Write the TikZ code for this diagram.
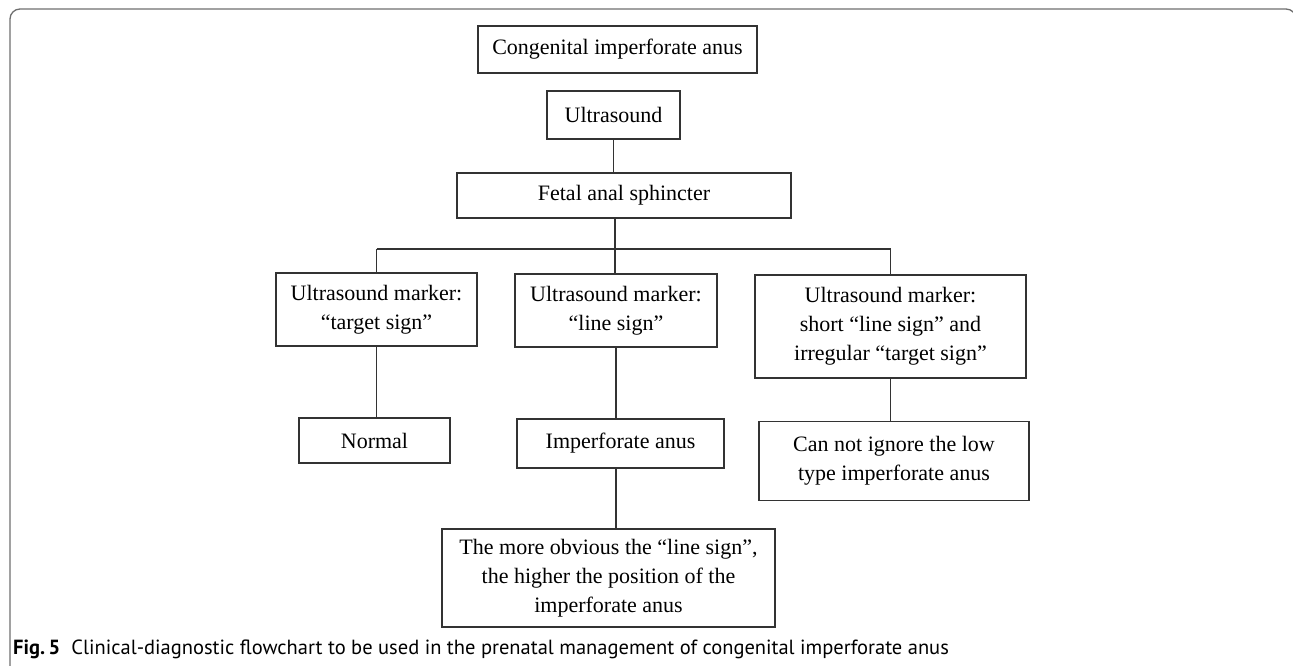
\documentclass[tikz,border=0pt]{standalone}
\usepackage{fontspec}
\setmainfont{Liberation Serif}
\newfontfamily\capfont{PT Sans}
\definecolor{framecol}{HTML}{6E6E6E}
\definecolor{boxcol}{HTML}{333333}
\begin{document}
\begin{tikzpicture}[x=1pt,y=-1pt,
  fbox/.style={draw=boxcol, line width=1.4pt, align=center, inner sep=0pt,
    font=\fontsize{22}{29}\selectfont, text=black},
  conn/.style={draw=boxcol, line width=1.4pt}]
\useasboundingbox (0,0) rectangle (1293,666);
\begin{scope}
\clip (0,0) rectangle (1293,666);
\draw[framecol, line width=1.3pt, rounded corners=10pt] (10,720) -- (10,9) -- (1296,9) -- (1296,720);
\end{scope}

\node[fbox, minimum width=279pt, minimum height=47pt] (b1) at (617.5,49.5) {Congenital imperforate anus};
\node[fbox, minimum width=133pt, minimum height=48pt] (b2) at (613.5,115) {Ultrasound};
\node[fbox, minimum width=334pt, minimum height=45pt] (b3) at (624,195.5) {Fetal anal sphincter};
\node[fbox, minimum width=201pt, minimum height=73pt] (t) at (376.5,309.5) {Ultrasound marker:\\``target sign''};
\node[fbox, minimum width=202pt, minimum height=73pt] (l) at (616,310.5) {Ultrasound marker:\\``line sign''};
\node[fbox, minimum width=271pt, minimum height=103pt] (r) at (890.5,326.5) {Ultrasound marker:\\short ``line sign'' and\\irregular ``target sign''};
\node[fbox, minimum width=151pt, minimum height=45pt] (n) at (374.5,440.5) {Normal};
\node[fbox, minimum width=207pt, minimum height=49pt] (i) at (620.5,443.5) {Imperforate anus};
\node[fbox, minimum width=270pt, minimum height=79.5pt] (c) at (894,461) {Can not ignore the low\\type imperforate anus};
\node[fbox, minimum width=333pt, minimum height=98pt] (m) at (608.5,578) {The more obvious the ``line sign'',\\the higher the position of the\\imperforate anus};

\coordinate (j) at (615,249);
\draw[conn] (b2.south) -- (b2.south |- b3.north);
\draw[conn] (j |- b3.south) -- (j);
\draw[conn] (j -| t.north) -- (j -| r.north);
\draw[conn] (j -| t.north) -- (t.north);
\draw[conn] (j) -- (j |- l.north);
\draw[conn] (j -| r.north) -- (r.north);
\draw[conn] (t.south) -- (t.south |- n.north);
\draw[conn] (l.south) -- (l.south |- i.north);
\draw[conn] (r.south) -- (r.south |- c.north);
\draw[conn] (l.south |- i.south) -- (l.south |- m.north);

\node[anchor=base west, inner sep=0pt, font=\capfont\fontsize{20.5}{24}\selectfont] (cap) at (13,654)
  {\textbf{Fig.\,5}\hspace{0.55em}Clinical-diagnostic flowchart to be used in the prenatal management of congenital imperforate anus};
\end{tikzpicture}
\end{document}
